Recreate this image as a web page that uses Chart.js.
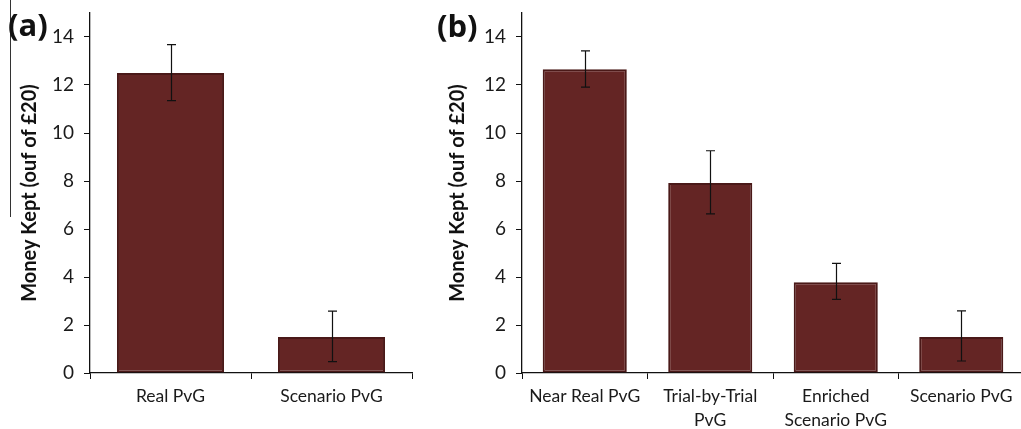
<!DOCTYPE html>
<html>
<head>
<meta charset="utf-8">
<script src="https://cdn.jsdelivr.net/npm/chart.js@4.4.1/dist/chart.umd.min.js"></script>
<style>
  html, body { margin:0; padding:0; background:#fff; overflow:hidden; width:1021px; height:429px; }
  .wrap { position:absolute; top:0; height:429px; }
  #wa { left:0; width:430px; }
  #wb { left:430px; width:594px; }
  .lab { position:absolute; font-family:"Open Sans","Liberation Sans",sans-serif; font-weight:bold; font-size:31px; color:#111; line-height:1; }
</style>
</head>
<body>
<div class="wrap" id="wa"><canvas id="ca"></canvas></div>
<div class="wrap" id="wb"><canvas id="cb"></canvas></div>
<div class="lab" style="left:8px;top:9px;">(a)</div>
<div class="lab" style="left:437px;top:10px;">(b)</div>
<script>
// ---- data ----
const catsA = ['Real PvG', 'Scenario PvG'];
const valsA = [12.5, 1.5];
const errLoA = [11.35, 0.47];
const errHiA = [13.68, 2.58];

const catsB = ['Near Real PvG', ['Trial-by-Trial', 'PvG'], ['Enriched', 'Scenario PvG'], 'Scenario PvG'];
const valsB = [12.66, 7.92, 3.78, 1.5];
const errLoB = [11.91, 6.63, 3.07, 0.5];
const errHiB = [13.42, 9.26, 4.57, 2.59];

const yTicks = [0, 2, 4, 6, 8, 10, 12, 14];
const yTitle = 'Money Kept (ouf of £20)';

const FONT = 'Lato';
const BAR = '#642524';
const BAR_EDGE = '#4a1918';

const errorBars = {
  id: 'errorBars',
  afterDatasetsDraw(chart, args, opts) {
    const ctx = chart.ctx;
    const meta = chart.getDatasetMeta(0);
    const ys = chart.scales.y;
    ctx.save();
    ctx.strokeStyle = '#111';
    ctx.lineWidth = 1.2;
    meta.data.forEach((bar, i) => {
      const x = Math.round(bar.x) + 0.5;
      const t = ys.getPixelForValue(opts.hi[i]);
      const b = ys.getPixelForValue(opts.lo[i]);
      ctx.beginPath();
      ctx.moveTo(x, t); ctx.lineTo(x, b);
      ctx.moveTo(x - 4.5, t); ctx.lineTo(x + 4.5, t);
      ctx.moveTo(x - 4.5, b); ctx.lineTo(x + 4.5, b);
      ctx.stroke();
    });
    ctx.restore();
  }
};

const artifact = {
  id: 'artifact',
  afterDraw(chart, args, opts) {
    if (!opts.on) return;
    const ctx = chart.ctx;
    ctx.save();
    ctx.strokeStyle = '#333';
    ctx.lineWidth = 1;
    ctx.beginPath();
    ctx.moveTo(10.5, 0); ctx.lineTo(10.5, 217);
    ctx.stroke();
    ctx.restore();
  }
};

function makeChart(id, cats, vals, lo, hi, yWidth, padRight, titlePad, barPct, art) {
  return new Chart(document.getElementById(id), {
    type: 'bar',
    data: {
      labels: cats,
      datasets: [{
        data: vals,
        backgroundColor: BAR,
        borderColor: BAR_EDGE,
        borderWidth: 2,
        borderSkipped: false,
        barPercentage: barPct,
        categoryPercentage: 1
      }]
    },
    plugins: [errorBars, artifact],
    options: {
      responsive: true,
      maintainAspectRatio: false,
      animation: false,
      layout: { padding: { left: 0, right: padRight, top: 13, bottom: 0 } },
      plugins: {
        legend: { display: false },
        tooltip: { enabled: false },
        errorBars: { lo: lo, hi: hi },
        artifact: { on: art }
      },
      scales: {
        x: {
          offset: true,
          grid: { offset: true, drawOnChartArea: false, drawTicks: true, tickLength: 6, color: '#111' },
          border: { display: true, color: '#111', width: 1.3 },
          ticks: { color: '#1a1a1a', font: { family: FONT, size: 17.5, lineHeight: 1.35 }, padding: 6, maxRotation: 0, autoSkip: false },
          afterFit: s => { s.height = 56; s.paddingLeft = 0; s.paddingRight = 0; }
        },
        y: {
          min: 0, max: 15,
          afterBuildTicks: s => { s.ticks = yTicks.map(v => ({ value: v })); },
          grid: { drawOnChartArea: false, drawTicks: true, tickLength: 6, color: '#111' },
          border: { display: true, color: '#111', width: 1.3 },
          ticks: { color: '#1a1a1a', font: { family: FONT, size: 19 }, padding: 10 },
          title: { display: true, text: yTitle, color: '#111', font: { family: FONT, size: 20, weight: 'bold' }, padding: { top: titlePad, bottom: 0 } },
          afterFit: s => { s.width = yWidth; s.paddingTop = 0; s.paddingBottom = 0; }
        }
      }
    }
  });
}

makeChart('ca', catsA, valsA, errLoA, errHiA, 90, 18, 18, 0.665, true);
makeChart('cb', catsB, valsB, errLoB, errHiB, 92, 0, 16, 0.67, false);
</script>
</body>
</html>
